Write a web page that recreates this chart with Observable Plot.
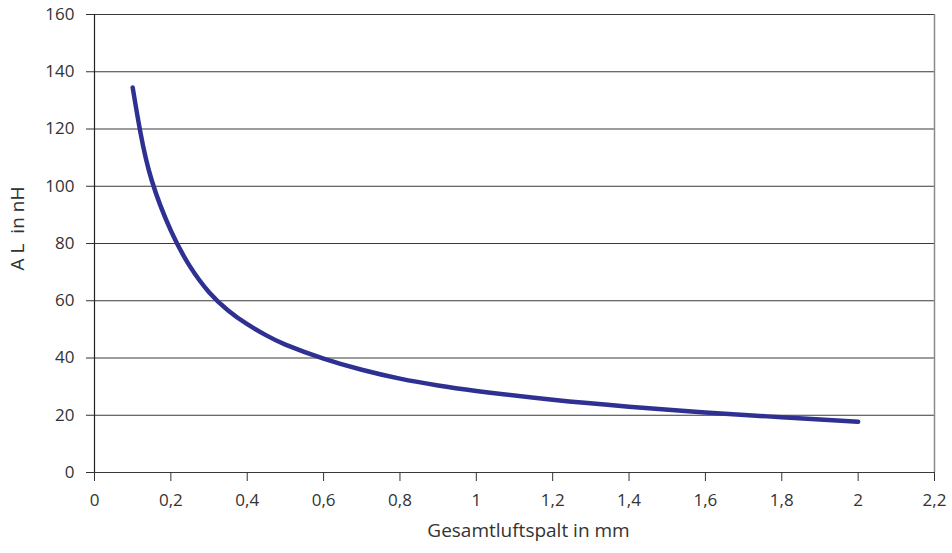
<!DOCTYPE html>
<html>
<head>
<meta charset="utf-8">
<script src="https://cdn.jsdelivr.net/npm/d3@7"></script>
<script src="https://cdn.jsdelivr.net/npm/@observablehq/plot@0.6"></script>
<style>
  html, body { margin: 0; padding: 0; background: #fff; }
</style>
</head>
<body>
<div id="chart"></div>
<script>
// Gesamtluftspalt (mm) and A_L (nH)
const gap = [0.1, 0.12, 0.15, 0.2, 0.25, 0.3, 0.35, 0.4, 0.45, 0.5, 0.6, 0.7, 0.8, 0.9, 1.0, 1.2, 1.4, 1.6, 1.8, 2.0];
const al  = [134.5, 119, 102, 84.5, 72, 63, 56.6, 51.8, 47.9, 44.7, 39.8, 35.9, 32.8, 30.4, 28.5, 25.4, 23, 21, 19.3, 17.7];
const xTicks = [0, 0.2, 0.4, 0.6, 0.8, 1.0, 1.2, 1.4, 1.6, 1.8, 2.0, 2.2];
const yTicks = [0, 20, 40, 60, 80, 100, 120, 140, 160];
const xLabel = "Gesamtluftspalt in mm";
const yLabel = "A L  in nH";

const data = gap.map((g, i) => ({gap: g, al: al[i]}));
const fmt = d => String(+d.toFixed(1)).replace(".", ",");

const chart = Plot.plot({
  width: 952,
  height: 553,
  marginLeft: 94,
  marginRight: 18,
  marginTop: 14,
  marginBottom: 81,
  style: {fontFamily: "Open Sans, sans-serif", fontSize: "17px", color: "#333", background: "#fff"},
  x: {domain: [0, 2.2]},
  y: {domain: [0, 160]},
  marks: [
    Plot.ruleY(yTicks, {stroke: "#3a3a3a", strokeWidth: 1}),
    Plot.ruleX([2.2], {stroke: "#8a8a8a", strokeWidth: 1.5}),
    Plot.ruleX([0], {stroke: "#222", strokeWidth: 1.2}),
    Plot.axisY({ticks: yTicks, tickSize: 8, tickPadding: 12, label: null, fontSize: 17, stroke: "#333", fill: "#333"}),
    Plot.axisX({ticks: xTicks, tickSize: 9, tickPadding: 12, label: null, tickFormat: fmt, fontSize: 17, stroke: "#333", fill: "#333"}),
    Plot.line(data, {x: "gap", y: "al", stroke: "#2e3192", strokeWidth: 4.5, curve: "natural"}),
    Plot.text([xLabel], {text: d => d, frameAnchor: "bottom", textAnchor: "middle", dx: 14, dy: 64, fontSize: 19, fill: "#333"}),
    Plot.text([yLabel], {text: d => d, frameAnchor: "left", textAnchor: "middle", rotate: -90, dx: -77, dy: -15, fontSize: 19, fill: "#333"})
  ]
});
document.getElementById("chart").appendChild(chart);
</script>
</body>
</html>
